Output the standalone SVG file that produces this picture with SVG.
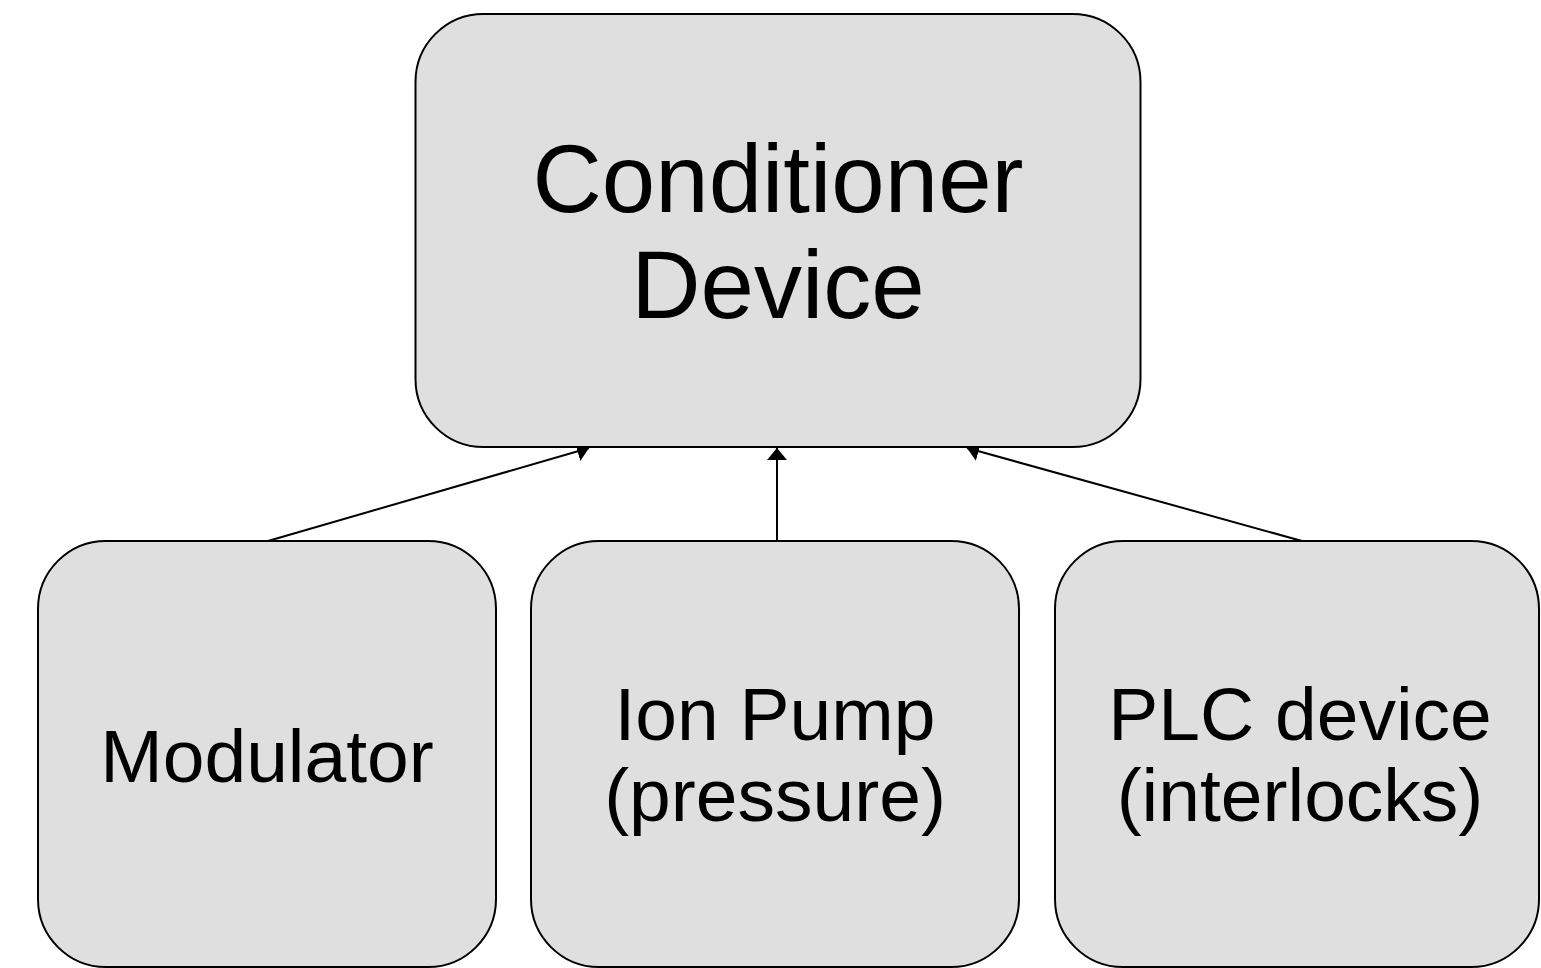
<svg xmlns="http://www.w3.org/2000/svg" width="1541" height="968" viewBox="0 0 1541 968">
<style>
.box{fill:#dfdfdf;stroke:#000;stroke-width:2}
.t{font-family:"Liberation Sans",Arial,sans-serif;fill:#000;text-anchor:middle}
.big{font-size:96px}
.sm{font-size:75px}
.edge{stroke:#000;stroke-width:2;fill:none;marker-end:url(#arr)}
</style>
<defs>
<marker id="arr" viewBox="0 0 12 20" refX="12" refY="10" markerWidth="12" markerHeight="20" markerUnits="userSpaceOnUse" orient="auto">
<path d="M0,0 L12,10 L0,20 Z" fill="#000"/>
</marker>
</defs>
<rect width="1541" height="968" fill="#fff"/>
<g id="connectors">
<line class="edge" x1="268" y1="541" x2="589" y2="448"/>
<line class="edge" x1="777" y1="541" x2="777" y2="448"/>
<line class="edge" x1="1302" y1="541" x2="967" y2="448"/>
</g>
<g id="conditioner">
<rect class="box" x="415.5" y="14" width="725" height="433" rx="68" ry="68"/>
<text class="t big" x="778" y="212">Conditioner</text>
<text class="t big" x="778" y="318">Device</text>
</g>
<g id="modulator">
<rect class="box" x="38" y="541" width="458" height="426" rx="68" ry="68"/>
<text class="t sm" x="267" y="782">Modulator</text>
</g>
<g id="ionpump">
<rect class="box" x="531" y="541" width="488" height="426" rx="68" ry="68"/>
<text class="t sm" x="775" y="740">Ion Pump</text>
<text class="t sm" x="775" y="821">(pressure)</text>
</g>
<g id="plc">
<rect class="box" x="1055" y="541" width="484" height="426" rx="68" ry="68"/>
<text class="t sm" x="1300" y="740">PLC device</text>
<text class="t sm" x="1300" y="821">(interlocks)</text>
</g>
</svg>
